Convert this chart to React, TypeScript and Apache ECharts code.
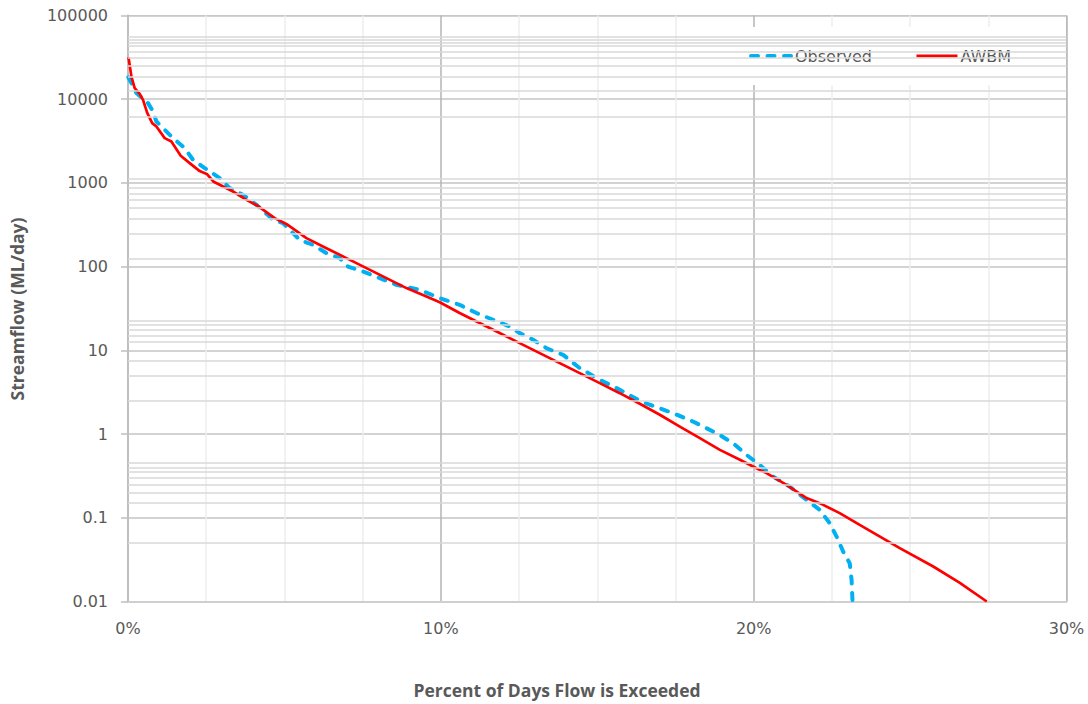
import React, { useEffect, useRef } from "react";
import * as echarts from "echarts";

// Percent of days flow is exceeded (%) and streamflow (ML/day)
const awbmX = [0.016, 0.109, 0.214, 0.374, 0.48, 0.614, 0.774, 0.908, 1.173, 1.387, 1.685, 1.972, 2.292, 2.532, 2.74, 3.357, 3.785, 4.146, 4.69, 5.106, 5.703, 6.343, 6.982, 7.621, 8.261, 8.9, 9.54, 9.965, 10.6, 11.24, 11.88, 12.52, 13.16, 13.8, 14.44, 15.08, 15.72, 16.36, 17.0, 17.64, 18.28, 18.92, 19.56, 19.98, 20.41, 21.05, 21.69, 22.11, 22.75, 23.39, 24.67, 25.74, 26.59, 27.45];
const awbmY = [31700, 18670, 13580, 11600, 9840, 6880, 5183, 4721, 3431, 3125, 2109, 1725, 1384, 1268, 1031, 790, 628, 533, 380, 316, 219, 166, 126.5, 96, 73, 55.4, 44, 37.5, 27.9, 21.2, 16.1, 12.2, 9.27, 7.04, 5.35, 4.06, 3.08, 2.3, 1.7, 1.23, 0.895, 0.648, 0.4925, 0.41, 0.3415, 0.2476, 0.1718, 0.1496, 0.1137, 0.0824, 0.0434, 0.02617, 0.0167, 0.01];

const observedX = [0.01, 0.109, 0.269, 0.639, 0.8, 0.908, 1.119, 1.439, 1.813, 2.078, 2.452, 2.932, 3.251, 3.676, 4.105, 4.636, 4.955, 5.275, 5.489, 5.914, 6.343, 6.768, 7.033, 7.513, 8.047, 8.581, 9.325, 9.965, 10.6, 11.14, 11.67, 12.2, 12.52, 12.95, 13.38, 13.91, 14.44, 15.08, 15.72, 16.36, 16.68, 17.42, 18.06, 18.81, 19.34, 19.77, 20.19, 20.62, 21.15, 21.69, 22.11, 22.43, 22.65, 22.86, 23.07, 23.13, 23.16];
const observedY = [18300, 15570, 11830, 8985, 7134, 5415, 4517, 3431, 2606, 1889, 1503, 1142, 867, 721, 548, 363, 331, 251, 209, 182, 145, 126.5, 100.3, 87.4, 73, 60.7, 52.9, 42.1, 35.0, 27.9, 23.2, 19.3, 16.1, 13.4, 10.6, 8.84, 6.14, 4.45, 3.38, 2.5, 2.24, 1.78, 1.41, 1.027, 0.78, 0.565, 0.429, 0.311, 0.236, 0.1639, 0.1245, 0.0864, 0.0597, 0.0395, 0.0287, 0.01816, 0.01];

const minorGridValues = [0.05, 0.15, 0.2, 0.25, 0.3, 0.35, 0.4, 0.45, 2.5, 5, 7.5, 12.5, 15, 17.5, 20, 22.5, 125, 250, 375, 500, 625, 750, 875, 1125, 6250, 12500, 18750, 25000, 31000, 37000, 43500, 47700, 51800, 55700];

const seriesNames = ["Observed", "AWBM"];
const xTitle = "Percent of Days Flow is Exceeded";
const yTitle = "Streamflow (ML/day)";

const pairs = (xs: number[], ys: number[]) => xs.map((x, i) => [x, ys[i]]);

const OBS_COLOR = "#00b0f0";
const AWBM_COLOR = "#ff0000";
const OBS_DASH = [7, 9.5];

export default function App() {
  const ref = useRef<HTMLDivElement>(null);
  useEffect(() => {
    const chart = echarts.init(ref.current!, null, { renderer: "svg" });
    const labelFont = "DejaVu Sans";
    chart.setOption({
      animation: false,
      backgroundColor: "#ffffff",
      grid: {
        left: 128,
        top: 15.5,
        right: 21.5,
        bottom: 102.5,
        show: true,
        borderColor: "#d0d0d0",
        borderWidth: 1,
        backgroundColor: "transparent",
      },
      legend: {
        data: [
          {
            name: seriesNames[0],
            lineStyle: { color: OBS_COLOR, width: 4, type: OBS_DASH, cap: "round" },
          },
          {
            name: seriesNames[1],
            lineStyle: { color: AWBM_COLOR, width: 3, type: "solid" },
          },
        ],
        left: 707,
        top: 27,
        orient: "horizontal",
        backgroundColor: "#ffffff",
        padding: [21, 39, 21, 42],
        itemWidth: 41,
        itemHeight: 16,
        itemGap: 43,
        itemStyle: { opacity: 0 },
        textStyle: { fontFamily: labelFont, fontSize: 16, color: "#595959", padding: [0, 0, 0, -2] },
        selectedMode: false,
      },
      xAxis: {
        type: "value",
        min: 0,
        max: 30,
        interval: 10,
        axisLine: { show: true, lineStyle: { color: "#cfcfcf", width: 2 } },
        axisTick: { show: false },
        axisLabel: {
          formatter: (v: number) => `${v}%`,
          fontFamily: labelFont,
          fontSize: 16,
          color: "#595959",
          margin: 19,
        },
        splitLine: { show: true, lineStyle: { color: "#b4b4b4", width: 1.5 } },
        minorTick: { show: false, splitNumber: 4 },
        minorSplitLine: { show: true, lineStyle: { color: "#eeeeee", width: 1.5 } },
      },
      yAxis: {
        type: "log",
        logBase: 10,
        min: 0.01,
        max: 100000,
        splitNumber: 7,
        axisLine: { show: true, lineStyle: { color: "#bfbfbf", width: 2 } },
        axisTick: { show: true, length: 7, lineStyle: { color: "#bfbfbf", width: 1.5 } },
        axisLabel: {
          formatter: (v: number) => String(Number(v.toPrecision(4))),
          fontFamily: labelFont,
          fontSize: 16,
          color: "#595959",
          margin: 20,
        },
        splitLine: { show: true, lineStyle: { color: "#c4c4c4", width: 1.5 } },
      },
      graphic: [
        {
          type: "text",
          x: 557,
          y: 690,
          style: {
            text: xTitle,
            fontFamily: "Open Sans",
            fontWeight: "bold",
            fontSize: 17.5,
            fill: "#595959",
            align: "center",
            verticalAlign: "middle",
          },
        },
        {
          type: "text",
          x: 17,
          y: 309,
          rotation: Math.PI / 2,
          style: {
            text: yTitle,
            fontFamily: "Open Sans",
            fontWeight: "bold",
            fontSize: 17.5,
            fill: "#595959",
            align: "center",
            verticalAlign: "middle",
          },
        },
      ],
      series: [
        {
          name: "minor-grid",
          type: "line",
          data: [],
          z: 1,
          silent: true,
          markLine: {
            silent: true,
            symbol: ["none", "none"],
            label: { show: false },
            lineStyle: { color: "#d9d9d9", width: 1.5, type: "solid" },
            emphasis: { disabled: true },
            data: minorGridValues.map((v) => ({ yAxis: v })),
          },
        },
        {
          name: seriesNames[0],
          type: "line",
          data: pairs(observedX, observedY),
          showSymbol: false,
          symbol: "none",
          z: 3,
          lineStyle: { color: OBS_COLOR, width: 4, type: OBS_DASH, cap: "round", join: "round" },
          itemStyle: { color: OBS_COLOR },
        },
        {
          name: seriesNames[1],
          type: "line",
          data: pairs(awbmX, awbmY),
          showSymbol: false,
          symbol: "none",
          z: 4,
          lineStyle: { color: AWBM_COLOR, width: 2.7, join: "round" },
          itemStyle: { color: AWBM_COLOR },
        },
      ],
    });
    return () => chart.dispose();
  }, []);
  return (
    <div
      ref={ref}
      style={{ position: "fixed", left: 0, top: 0, width: 1088, height: 704, background: "#ffffff" }}
    />
  );
}
